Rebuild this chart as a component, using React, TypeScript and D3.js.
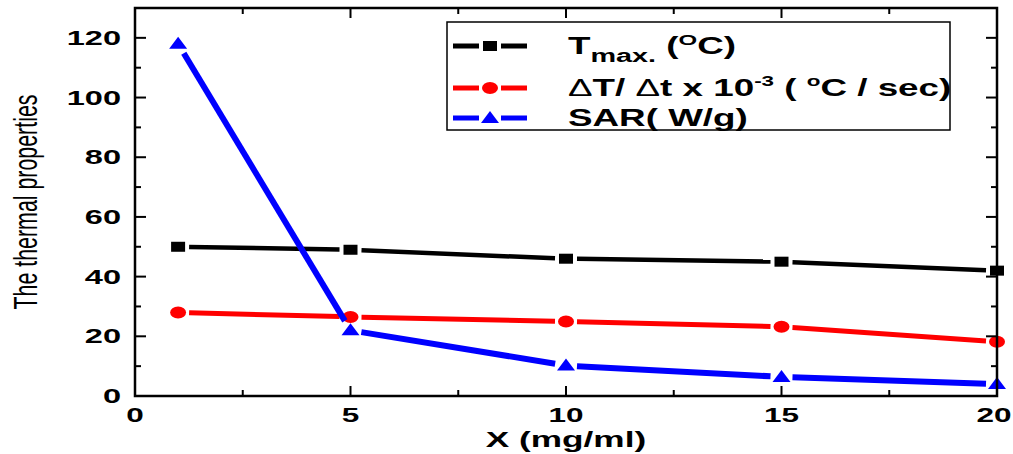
import React from "react";
import * as d3 from "d3";

// values
const xValues = [1, 5, 10, 15, 20];
const tMax = [50, 49, 46, 45, 42];
const heatRate = [28, 26.5, 25, 23.2, 18.2];
const sar = [118, 22, 10.2, 6.4, 4];

const xTicks = [0, 5, 10, 15, 20];
const yTicks = [0, 20, 40, 60, 80, 100, 120];

const W = 1013;
const H = 454;
const left = 135;
const right = 997;
const top = 8;
const bottom = 396;

const FONT = "'Liberation Sans', Arial, sans-serif";

function segments(pts: [number, number][], gap: number) {
    // line pieces between markers, cut short at both ends like the original
    const out: string[] = [];
    for (let i = 0; i < pts.length - 1; i++) {
        const [x1, y1] = pts[i];
        const [x2, y2] = pts[i + 1];
        const len = Math.hypot(x2 - x1, y2 - y1);
        const ux = (x2 - x1) / len;
        const uy = (y2 - y1) / len;
        out.push(`M${x1 + ux * gap},${y1 + uy * gap}L${x2 - ux * gap},${y2 - uy * gap}`);
    }
    return out;
}

function Marker({ kind, x, y, color }: { kind: string; x: number; y: number; color: string }) {
    if (kind === "square") return <rect x={x - 7} y={y - 5} width={14} height={10} fill={color} />;
    if (kind === "circle") return <ellipse cx={x} cy={y} rx={8} ry={6} fill={color} />;
    return <path d={`M${x - 9},${y + 5}L${x + 9},${y + 5}L${x},${y - 7}Z`} fill={color} />;
}

function Stretched({ x, y, sx, anchor, size, weight, children }: any) {
    return (
        <text
            transform={`translate(${x},${y}) scale(${sx},1)`}
            textAnchor={anchor}
            fontSize={size}
            fontWeight={weight}
            fontFamily={FONT}
        >
            {children}
        </text>
    );
}

export default function App() {
    const x = d3.scaleLinear().domain([0, 20]).range([left, right]);
    const y = d3.scaleLinear().domain([0, 130]).range([bottom, top]);

    const series = [
        { name: "tmax", values: tMax, color: "#000000", kind: "square", width: 4.5 },
        { name: "rate", values: heatRate, color: "#ff0000", kind: "circle", width: 5 },
        { name: "sar", values: sar, color: "#0000ff", kind: "triangle", width: 6 },
    ];

    const xMinor = d3.range(0, 20.01, 2.5);
    const yMinor = d3.range(0, 130, 10);

    const legendY = [46, 88, 118];

    return (
        <svg width={W} height={H} style={{ position: "absolute", left: 0, top: 0 }}>
            <rect width={W} height={H} fill="#fff" />

            {/* data */}
            {series.map((s) => {
                const pts = xValues.map((v, i) => [x(v), y(s.values[i])] as [number, number]);
                return (
                    <g key={s.name}>
                        {segments(pts, 11).map((d, i) => (
                            <path key={i} d={d} stroke={s.color} strokeWidth={s.width} fill="none" />
                        ))}
                        {pts.map((p, i) => (
                            <Marker key={i} kind={s.kind} x={p[0]} y={p[1]} color={s.color} />
                        ))}
                    </g>
                );
            })}

            {/* frame and ticks */}
            <rect x={left} y={top} width={right - left} height={bottom - top} fill="none" stroke="#000" strokeWidth={2.5} />
            {xMinor.map((t) => {
                const major = t % 5 === 0;
                const len = major ? 10 : 6;
                return (
                    <g key={"x" + t} stroke="#000" strokeWidth={2}>
                        <line x1={x(t)} x2={x(t)} y1={bottom} y2={bottom - len} />
                        <line x1={x(t)} x2={x(t)} y1={top} y2={top + len} />
                    </g>
                );
            })}
            {yMinor.map((t) => {
                const major = t % 20 === 0;
                const len = major ? 11 : 6;
                return (
                    <g key={"y" + t} stroke="#000" strokeWidth={2}>
                        <line x1={left} x2={left + len} y1={y(t)} y2={y(t)} />
                        <line x1={right} x2={right - len} y1={y(t)} y2={y(t)} />
                    </g>
                );
            })}

            {/* tick labels (last one kept inside the page edge) */}
            {xTicks.map((t) => (
                <Stretched key={"xl" + t} x={Math.min(x(t), W - 19)} y={422} sx={1.5} anchor="middle" size={21} weight="bold">
                    {t}
                </Stretched>
            ))}
            {yTicks.map((t) => (
                <Stretched key={"yl" + t} x={left - 14} y={y(t) + 7} sx={1.55} anchor="end" size={21} weight="bold">
                    {t}
                </Stretched>
            ))}

            {/* axis titles */}
            <Stretched x={(left + right) / 2} y={447} sx={1.6} anchor="middle" size={22} weight="bold">
                X (mg/ml)
            </Stretched>
            <text
                transform={`translate(37,202) scale(1.35,1) rotate(-90)`}
                textAnchor="middle"
                fontSize={25}
                fontFamily={FONT}
                textLength={215}
                lengthAdjust="spacingAndGlyphs"
            >
                The thermal properties
            </text>

            {/* legend */}
            <rect x={447} y={22} width={503} height={108} fill="#fff" stroke="#000" strokeWidth={1.5} />
            {series.map((s, i) => (
                <g key={"lg" + s.name}>
                    <path d={`M453,${legendY[i]}H479M501,${legendY[i]}H527`} stroke={s.color} strokeWidth={5} />
                    <Marker kind={s.kind} x={490} y={legendY[i]} color={s.color} />
                </g>
            ))}
            <Stretched x={568} y={54} sx={1.6} anchor="start" size={23} weight="bold">
                T
                <tspan fontSize={18} dy={8}>max.</tspan>
                <tspan dy={-8}> (</tspan>
                <tspan fontSize={15} dy={-9}>O</tspan>
                <tspan dy={9}>C)</tspan>
            </Stretched>
            <Stretched x={568} y={96} sx={1.6} anchor="start" size={23} weight="bold">
                <tspan fontWeight="normal">Δ</tspan>T/ <tspan fontWeight="normal">Δ</tspan>t  x 10
                <tspan fontSize={14} dy={-10}>-3</tspan>
                <tspan dy={10}> ( </tspan>
                <tspan fontSize={14} dy={-10}>o</tspan>
                <tspan dy={10}>C / sec)</tspan>
            </Stretched>
            <Stretched x={568} y={126} sx={1.6} anchor="start" size={23} weight="bold">
                SAR( W/g)
            </Stretched>
        </svg>
    );
}
